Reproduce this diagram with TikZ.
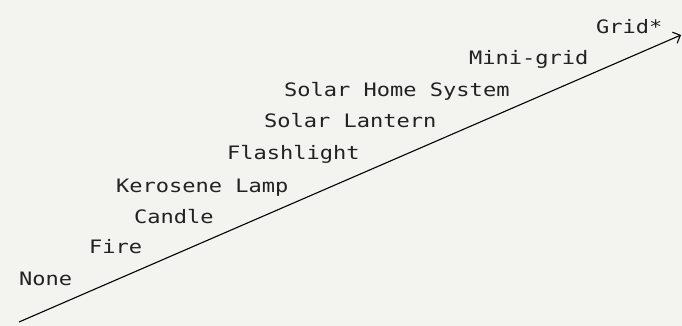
\documentclass[tikz,border=0pt]{standalone}
\usepackage{fontspec}
\newfontfamily\labelfont[FakeStretch=1.19]{DejaVu Sans Mono}
\usetikzlibrary{arrows.meta}
\definecolor{bgc}{HTML}{F3F3EF}
\definecolor{txt}{HTML}{222222}
\tikzset{
  lab/.style={anchor=base west, inner sep=0pt, text=txt, font=\labelfont\fontsize{18.5pt}{20pt}\selectfont},
  axisline/.style={line width=1.1pt, draw=black, -{Straight Barb[length=6pt,width=12pt,line width=1.1pt]}}
}
\begin{document}
\begin{tikzpicture}[x=1pt,y=-1pt]
\fill[bgc] (0,0) rectangle (682,326);
\useasboundingbox (0,0) rectangle (682,326);
\coordinate (start) at (19,322);
\coordinate (end) at (681,35);
\draw[axisline] (start) -- (end);
\node[lab] (grid) at (596,34) {Grid*};
\node[lab] (mini) at (469,65) {Mini-grid};
\node[lab] (shs) at (284,97) {Solar Home System};
\node[lab] (sl) at (264,128) {Solar Lantern};
\node[lab] (flash) at (227,159) {Flashlight};
\node[lab] (kero) at (116,192) {Kerosene Lamp};
\node[lab] (candle) at (134,223) {Candle};
\node[lab] (fire) at (89,253) {Fire};
\node[lab] (none) at (19,285) {None};
\end{tikzpicture}
\end{document}
